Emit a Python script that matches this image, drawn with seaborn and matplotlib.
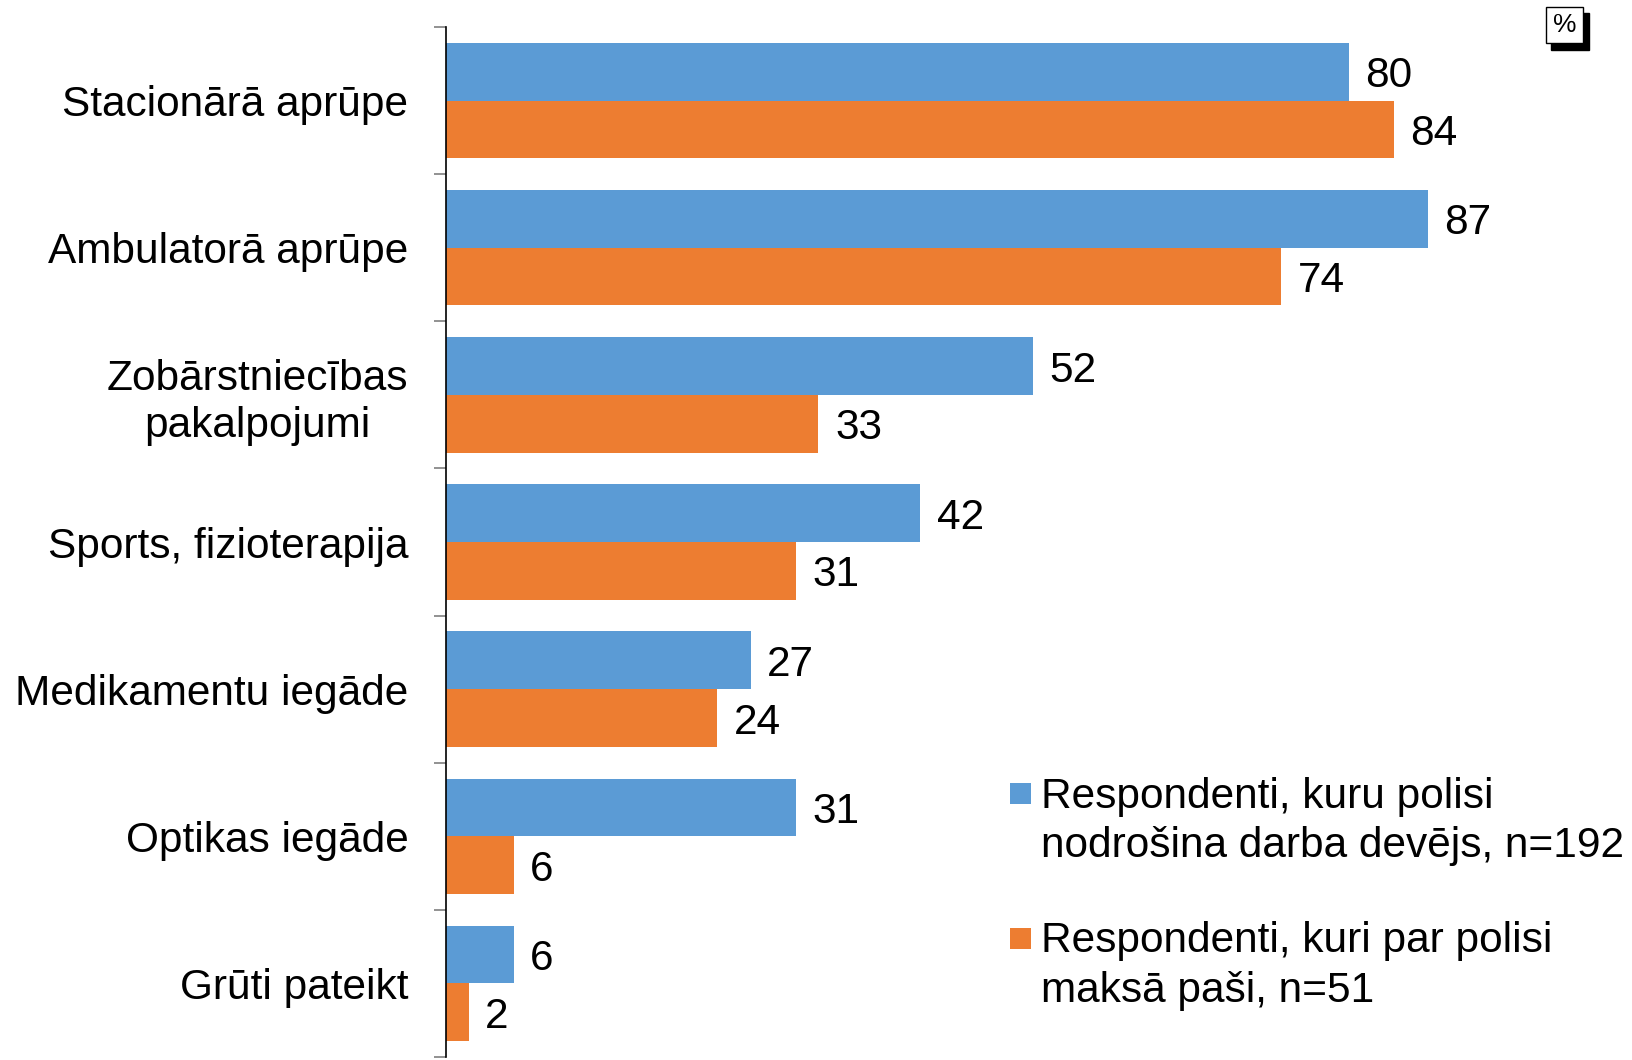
import pandas as pd
import numpy as np
import matplotlib.pyplot as plt
import seaborn as sns
from matplotlib.patches import Rectangle

sns.set_theme(style="white")
plt.rcParams['font.family'] = ['Liberation Sans', 'DejaVu Sans']
plt.rcParams['text.color'] = 'black'
plt.rcParams['ytick.color'] = 'black'

# dati
kategorijas = ["Stacionārā aprūpe", "Ambulatorā aprūpe", "Zobārstniecības\npakalpojumi",
               "Sports, fizioterapija", "Medikamentu iegāde", "Optikas iegāde", "Grūti pateikt"]
grupa_darba_devejs = [80, 87, 52, 42, 27, 31, 6]
grupa_pasi = [84, 74, 33, 31, 24, 6, 2]
serijas = ["Respondenti, kuru polisi\nnodrošina darba devējs, n=192",
           "Respondenti, kuri par polisi\nmaksā paši, n=51"]
krasas = ["#5B9BD5", "#ED7D31"]

df = pd.DataFrame({
    "kategorija": kategorijas * 2,
    "vertiba": grupa_darba_devejs + grupa_pasi,
    "grupa": [serijas[0]] * len(kategorijas) + [serijas[1]] * len(kategorijas),
})

fig = plt.figure(figsize=(16.33, 10.6), dpi=100)
ax = fig.add_axes([0.2731, 0.0028, 0.691, 0.9717])

sns.barplot(data=df, y="kategorija", x="vertiba", hue="grupa", palette=krasas,
            orient="h", width=0.785, linewidth=0, saturation=1, ax=ax, legend=False)

for c in ax.containers:
    for t in ax.bar_label(c, padding=12, fontsize=30.5, color="black"):
        t.set_va("center_baseline")

ax.set_xlim(0, 100)
ax.set_ylim(6.5, -0.5)
ax.set_xlabel("")
ax.set_ylabel("")
ax.xaxis.set_visible(False)
for s in ["top", "right", "bottom"]:
    ax.spines[s].set_visible(False)
ax.spines["left"].set_color("black")
ax.spines["left"].set_linewidth(1.2)

ax.set_yticks(np.arange(-0.5, 7, 1), minor=True)
ax.tick_params(axis="y", which="minor", left=True, length=9, width=1.2, color="#7f7f7f")
ax.tick_params(axis="y", which="major", left=False, length=0, pad=27, labelsize=30.5,
               labelcolor="black")
for lbl in ax.get_yticklabels():
    lbl.set_multialignment("center")

# leģenda (kvadrāts pie pirmās rindas)
W, H = 1633, 1060
leg_kv_y = [783, 928]
leg_txt_y = [821.5, 966]
for nosauk, krasa, ky, ty in zip(serijas, krasas, leg_kv_y, leg_txt_y):
    fig.patches.append(Rectangle((1010 / W, 1 - (ky + 21) / H), 21 / W, 21 / H,
                                 transform=fig.transFigure, facecolor=krasa, edgecolor="none"))
    fig.text(1041 / W, 1 - ty / H, nosauk, ha="left", va="center", fontsize=30.5,
             linespacing=1.3)

# "%" lodziņš
fig.patches.append(Rectangle((1551 / W, 1 - 50 / H), 38 / W, 37 / H,
                             transform=fig.transFigure, facecolor="black", edgecolor="black"))
fig.patches.append(Rectangle((1546 / W, 1 - 43 / H), 37 / W, 36 / H,
                             transform=fig.transFigure, facecolor="white", edgecolor="black",
                             linewidth=1))
fig.text(1564.5 / W, 1 - 25 / H, "%", ha="center", va="center", fontsize=19)

fig.savefig("out.png", dpi=100)
